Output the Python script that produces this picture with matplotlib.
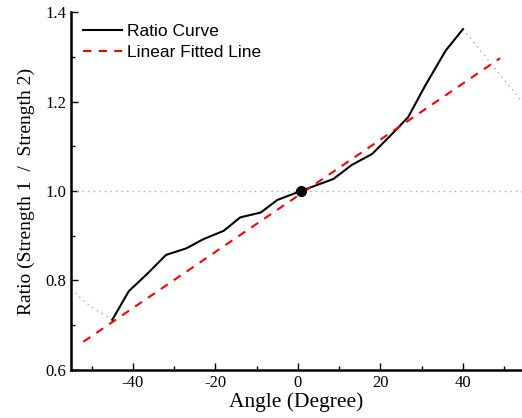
import numpy as np
import matplotlib.pyplot as plt
from matplotlib.ticker import MultipleLocator

plt.rcParams["axes.unicode_minus"] = False

# measured ratio curve
angle = np.array([-45, -41, -36.5, -32, -27, -23, -18, -14, -9, -5, 0.7,
                  8.6, 13, 18, 22, 26.7, 30.8, 35.8, 40], dtype=float)
ratio = np.array([0.712, 0.776, 0.815, 0.857, 0.872, 0.892, 0.911, 0.941, 0.952,
                  0.980, 1.000, 1.027, 1.058, 1.083, 1.12, 1.165, 1.235, 1.314, 1.362],
                 dtype=float)

# dotted extrapolation beyond the measured range
ext_left_x = np.array([-55, -52, -49.6, -47, -45], dtype=float)
ext_left_y = np.array([0.780, 0.755, 0.738, 0.724, 0.712], dtype=float)
ext_right_x = np.array([40, 54.3], dtype=float)
ext_right_y = np.array([1.362, 1.200], dtype=float)

# linear fitted line end points
fit_x = np.array([-52, 49], dtype=float)
fit_y = np.array([0.663, 1.297], dtype=float)

center = (0.7, 1.0)


def main():
    fig = plt.figure(figsize=(5.22, 4.18), dpi=100)
    ax = fig.add_axes([0.136, 0.115, 0.864, 0.856])

    ax.axhline(1.0, color="#aaaaaa", lw=1, ls=(0, (1, 3)))
    ax.plot(ext_left_x, ext_left_y, color="#aaaaaa", lw=1, ls=(0, (1, 3)))
    ax.plot(ext_right_x, ext_right_y, color="#aaaaaa", lw=1, ls=(0, (1, 3)))

    ax.plot(angle, ratio, color="black", lw=1.5, label="Ratio Curve")
    ax.plot(fit_x, fit_y, color="red", lw=1.5, ls=(0, (4, 3.5)),
            label="Linear Fitted Line")
    ax.plot(*center, "o", color="black", ms=7)

    ax.set_xlim(-55, 54.3)
    ax.set_ylim(0.6, 1.4)
    ax.xaxis.set_major_locator(MultipleLocator(20))
    ax.xaxis.set_minor_locator(MultipleLocator(10))
    ax.yaxis.set_major_locator(MultipleLocator(0.2))
    ax.yaxis.set_minor_locator(MultipleLocator(0.1))
    ax.yaxis.set_major_formatter(plt.FuncFormatter(lambda v, p: f"{v:.1f}"))

    for s in ["top", "right"]:
        ax.spines[s].set_visible(False)
    for s in ["left", "bottom"]:
        ax.spines[s].set_linewidth(1.8)

    ax.tick_params(which="both", direction="in", width=1, labelsize=12)
    ax.tick_params(which="major", length=5)
    ax.tick_params(which="minor", length=3)
    for lab in ax.get_xticklabels() + ax.get_yticklabels():
        lab.set_family("Liberation Serif")

    ax.set_xlabel("Angle (Degree)", family="Liberation Serif", fontsize=15.5, labelpad=1)
    ax.set_ylabel("Ratio (Strength 1  /  Strength 2)", family="Liberation Serif",
                  fontsize=14, labelpad=7)

    ax.legend(loc="upper left", frameon=False, prop={"family": "Liberation Sans", "size": 12.5},
              handlelength=2.25, handletextpad=0.3, labelspacing=0.3,
              borderaxespad=0.3)

    fig.savefig("out.png", dpi=100)


if __name__ == "__main__":
    main()
